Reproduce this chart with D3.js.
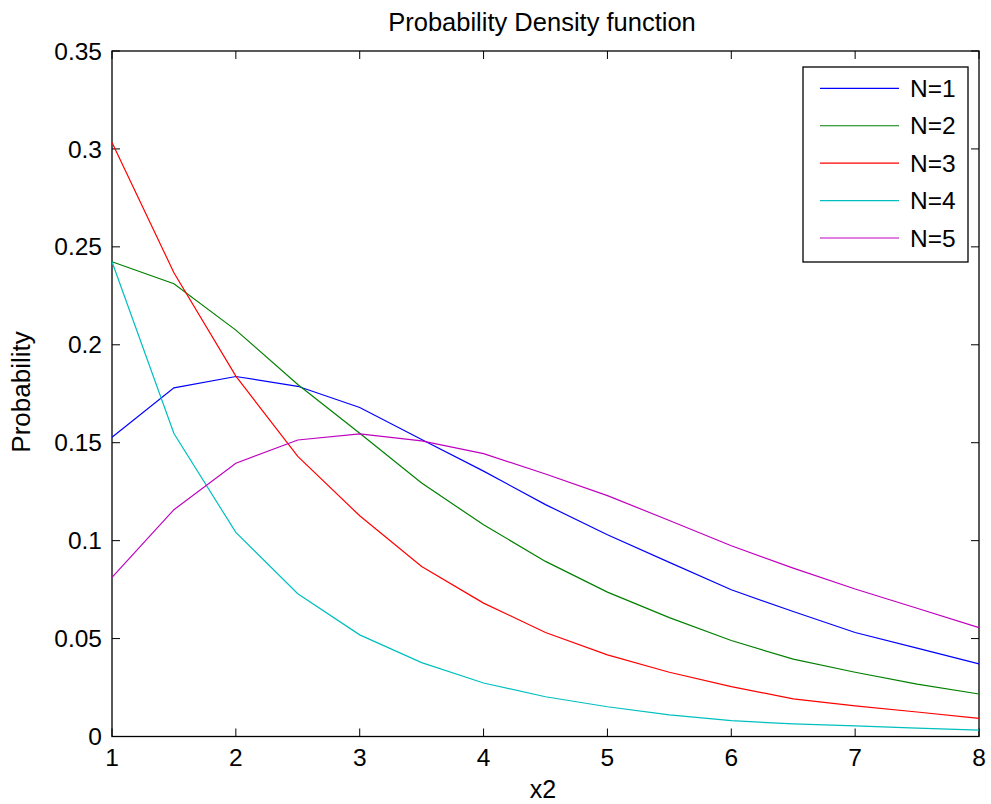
<!DOCTYPE html>
<html>
<head>
<meta charset="utf-8">
<script src="https://cdn.jsdelivr.net/npm/d3@7"></script>
<style>
  html, body { margin: 0; padding: 0; background: #fff; }
  svg { display: block; font-family: "Liberation Sans", Arial, sans-serif; }
</style>
</head>
<body>
<svg id="chart" width="991" height="804"></svg>
<script>
const xValues = [1, 1.5, 2, 2.5, 3, 3.5, 4, 4.5, 5, 5.5, 6, 6.5, 7, 7.5, 8];
const seriesNames = ["N=1", "N=2", "N=3", "N=4", "N=5"];
const seriesColors = ["#0000ff", "#008000", "#ff0000", "#00bfbf", "#bf00bf"];
const n1 = [0.1528, 0.1780, 0.1838, 0.1788, 0.1680, 0.1516, 0.1355, 0.1184, 0.1030, 0.0889, 0.0749, 0.0638, 0.0531, 0.0451, 0.0371];
const n2 = [0.2424, 0.2312, 0.2075, 0.1797, 0.1548, 0.1294, 0.1081, 0.0894, 0.0737, 0.0607, 0.0490, 0.0395, 0.0328, 0.0267, 0.0217];
const n3 = [0.3033, 0.2368, 0.1840, 0.1430, 0.1127, 0.0868, 0.0681, 0.0531, 0.0417, 0.0328, 0.0255, 0.0192, 0.0156, 0.0125, 0.0093];
const n4 = [0.2424, 0.1547, 0.1042, 0.0729, 0.0519, 0.0377, 0.0273, 0.0203, 0.0152, 0.0110, 0.0081, 0.0064, 0.0054, 0.0043, 0.0033];
const n5 = [0.0812, 0.1158, 0.1395, 0.1514, 0.1545, 0.1509, 0.1444, 0.1340, 0.1230, 0.1103, 0.0974, 0.0860, 0.0753, 0.0655, 0.0556];
const seriesValues = [n1, n2, n3, n4, n5];
const xTicks = [1, 2, 3, 4, 5, 6, 7, 8];
const yTicks = [0, 0.05, 0.1, 0.15, 0.2, 0.25, 0.3, 0.35];
const yTickLabels = ["0", "0.05", "0.1", "0.15", "0.2", "0.25", "0.3", "0.35"];
const titleText = "Probability Density function";
const xLabelText = "x2";
const yLabelText = "Probability";

const svg = d3.select("#chart");
const L = 112, R = 979, T = 51, B = 736.5;
const x = d3.scaleLinear().domain([1, 8]).range([L, R]);
const y = d3.scaleLinear().domain([0, 0.35]).range([B, T]);
const tickFont = "24.5px";
const tl = 8;

// frame
svg.append("rect").attr("x", L).attr("y", T).attr("width", R - L).attr("height", B - T)
  .attr("fill", "none").attr("stroke", "#000").attr("stroke-width", 1.3);

// ticks
const g = svg.append("g").attr("stroke", "#000").attr("stroke-width", 1);
xTicks.forEach(t => {
  g.append("line").attr("x1", x(t)).attr("x2", x(t)).attr("y1", B).attr("y2", B - tl);
  g.append("line").attr("x1", x(t)).attr("x2", x(t)).attr("y1", T).attr("y2", T + tl);
});
yTicks.forEach(t => {
  g.append("line").attr("y1", y(t)).attr("y2", y(t)).attr("x1", L).attr("x2", L + tl);
  g.append("line").attr("y1", y(t)).attr("y2", y(t)).attr("x1", R).attr("x2", R - tl);
});

// tick labels
svg.append("g").selectAll("text").data(xTicks).join("text")
  .attr("x", d => x(d)).attr("y", 766).attr("text-anchor", "middle")
  .style("font-size", tickFont).text(d => d);
svg.append("g").selectAll("text").data(yTicks).join("text")
  .attr("x", 102).attr("y", d => y(d)).attr("dy", "0.35em").attr("text-anchor", "end")
  .style("font-size", tickFont).text((d, i) => yTickLabels[i]);

// lines
const line = d3.line().x((d, i) => x(xValues[i])).y(d => y(d));
svg.append("g").selectAll("path").data(seriesValues).join("path")
  .attr("d", d => line(d)).attr("fill", "none")
  .attr("stroke", (d, i) => seriesColors[i]).attr("stroke-width", 1.2);

// title and labels
svg.append("text").attr("x", 542).attr("y", 31).attr("text-anchor", "middle")
  .style("font-size", "25.5px").text(titleText);
svg.append("text").attr("x", 543).attr("y", 798).attr("text-anchor", "middle")
  .style("font-size", "25px").text(xLabelText);
svg.append("text").attr("transform", "translate(30,392) rotate(-90)").attr("text-anchor", "middle")
  .style("font-size", "26px").text(yLabelText);

// legend
const lg = svg.append("g");
lg.append("rect").attr("x", 803).attr("y", 67).attr("width", 165).attr("height", 195)
  .attr("fill", "#fff").attr("stroke", "#000").attr("stroke-width", 1.3);
const rowY = d3.scalePoint().domain(seriesNames).range([88.3, 238]);
seriesNames.forEach((name, i) => {
  lg.append("line").attr("x1", 820).attr("x2", 899).attr("y1", rowY(name)).attr("y2", rowY(name))
    .attr("stroke", seriesColors[i]).attr("stroke-width", 1.2);
  lg.append("text").attr("x", 910).attr("y", rowY(name)).attr("dy", "0.35em")
    .style("font-size", tickFont).text(name);
});
</script>
</body>
</html>
